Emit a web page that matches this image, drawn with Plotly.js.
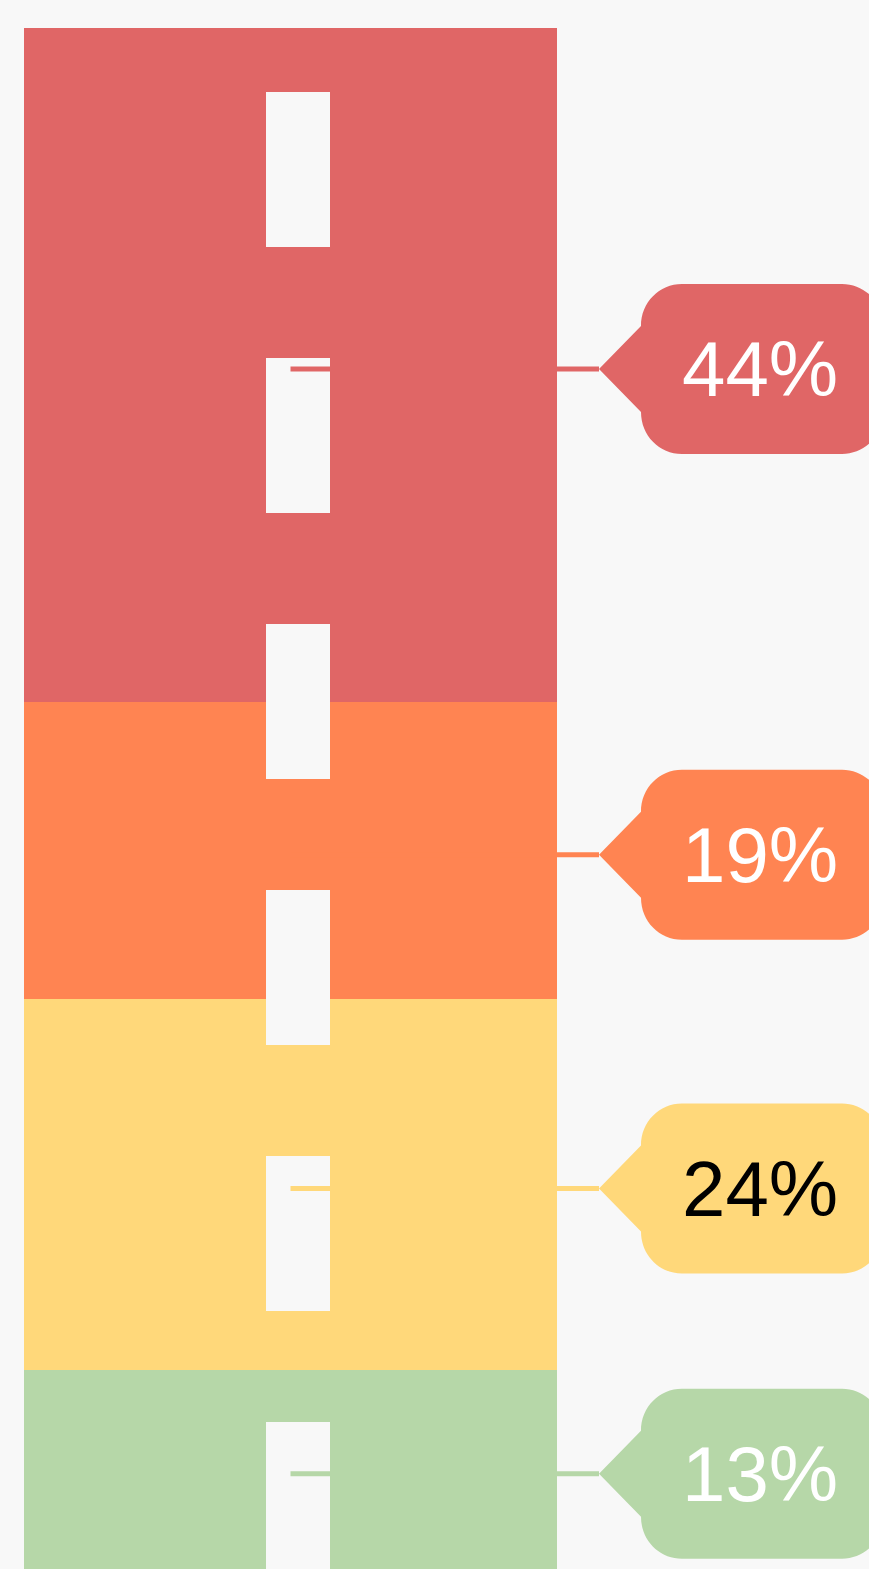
<!DOCTYPE html>
<html>
<head>
<meta charset="utf-8">
<script src="https://cdn.plot.ly/plotly-3.0.1.min.js"></script>
<style>html,body{margin:0;padding:0;background:#f8f8f8;}</style>
</head>
<body>
<div id="chart" style="width:869px;height:1569px;"></div>
<script>
// ---- data ----
var segmentNames = ['Segment 1', 'Segment 2', 'Segment 3', 'Segment 4'];
var segmentValues = [43.7, 19.3, 24.0, 13.0];
var segmentColors = ['#e06666', '#ff8452', '#ffd87a', '#b6d7a8'];
var labelTextColors = ['#ffffff', '#ffffff', '#000000', '#ffffff'];

// ---- layout constants (pixels) ----
var W = 869, H = 1569;
var topPx = 28, pxPerUnit = 15.42;
var barCenter = 290.5, barWidth = 533;
var tipX = 599, textX = 760;
var labelShift = -4;

var yTop = -topPx / pxPerUnit;
var yBottom = (H - topPx) / pxPerUnit;

var traces = segmentValues.map(function (v, i) {
  return {
    type: 'bar', x: [barCenter], y: [v], width: [barWidth], name: segmentNames[i],
    marker: {color: segmentColors[i], line: {width: 0}},
    hoverinfo: 'none', showlegend: false
  };
});

var shapes = [];
// lane dashes
for (var s = 92; s < H; s += 266) {
  shapes.push({type: 'rect', xref: 'x', yref: 'paper', x0: 266, x1: 330,
    y0: 1 - s / H, y1: Math.max(0, 1 - (s + 155) / H),
    fillcolor: '#f8f8f8', line: {width: 0}, layer: 'above'});
}

function calloutPath(d) {
  var r = 41, k = 0.552 * r, L = 42, R = 284, h = 85;
  function p(x, y) { return x + ',' + (y + d); }
  return 'M ' + p(0, 0) +
    ' L ' + p(L, 43) +
    ' C ' + p(L, h - r + k) + ' ' + p(L + r - k, h) + ' ' + p(L + r, h) +
    ' L ' + p(R - r, h) +
    ' C ' + p(R - r + k, h) + ' ' + p(R, h - r + k) + ' ' + p(R, h - r) +
    ' L ' + p(R, -h + r) +
    ' C ' + p(R, -h + r - k) + ' ' + p(R - r + k, -h) + ' ' + p(R - r, -h) +
    ' L ' + p(L + r, -h) +
    ' C ' + p(L + r - k, -h) + ' ' + p(L, -h + r - k) + ' ' + p(L, -43) +
    ' Z';
}

var annotations = [];
var cum = 0;
segmentValues.forEach(function (v, i) {
  var mid = cum + v / 2;
  cum += v;
  shapes.push({type: 'line', xref: 'x', yref: 'y', ysizemode: 'pixel', yanchor: mid,
    x0: barCenter, x1: tipX, y0: labelShift, y1: labelShift,
    line: {color: segmentColors[i], width: 5}, layer: 'above'});
  shapes.push({type: 'path', xref: 'x', yref: 'y', xsizemode: 'pixel', ysizemode: 'pixel',
    xanchor: tipX, yanchor: mid, path: calloutPath(labelShift),
    fillcolor: segmentColors[i], line: {width: 0}, layer: 'above'});
  annotations.push({xref: 'x', yref: 'y', x: textX, y: mid, yshift: labelShift,
    text: Math.round(v) + '%', showarrow: false, xanchor: 'center', yanchor: 'middle',
    font: {family: 'Liberation Sans, Arial, sans-serif', size: 78, color: labelTextColors[i]}});
});

var layout = {
  width: W, height: H,
  margin: {l: 0, r: 0, t: 0, b: 0, pad: 0},
  paper_bgcolor: '#f8f8f8', plot_bgcolor: '#f8f8f8',
  barmode: 'stack',
  xaxis: {range: [0, W], visible: false, fixedrange: true},
  yaxis: {range: [yBottom, yTop], visible: false, fixedrange: true},
  shapes: shapes, annotations: annotations,
  showlegend: false
};

Plotly.newPlot('chart', traces, layout, {displayModeBar: false, staticPlot: true});
</script>
</body>
</html>
